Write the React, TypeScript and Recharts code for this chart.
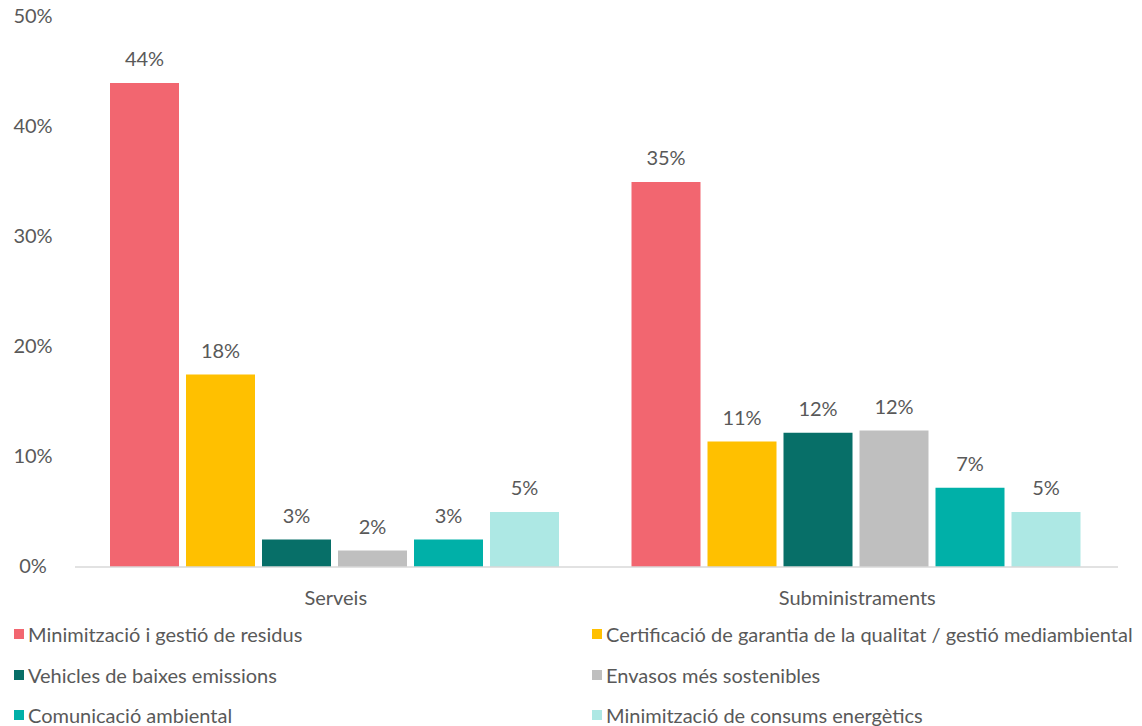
import { BarChart, Bar, XAxis, YAxis, LabelList } from 'recharts'

const categories = ['Serveis', 'Subministraments']

const residus = [44, 35]
const certificacio = [17.5, 11.4]
const vehicles = [2.5, 12.2]
const envasos = [1.5, 12.4]
const comunicacio = [2.5, 7.2]
const energetics = [5, 5]

const yTicks = [0, 10, 20, 30, 40, 50]

const series = [
  { key: 'residus', name: 'Minimització i gestió de residus', color: '#F26670', values: residus },
  { key: 'certificacio', name: 'Certificació de garantia de la qualitat / gestió mediambiental', color: '#FFC000', values: certificacio },
  { key: 'vehicles', name: 'Vehicles de baixes emissions', color: '#076F68', values: vehicles },
  { key: 'envasos', name: 'Envasos més sostenibles', color: '#BFBFBF', values: envasos },
  { key: 'comunicacio', name: 'Comunicació ambiental', color: '#00B0A8', values: comunicacio },
  { key: 'energetics', name: 'Minimització de consums energètics', color: '#ADE8E4', values: energetics },
]

const data = categories.map((cat, i) => {
  const row: Record<string, string | number> = { category: cat }
  series.forEach((s) => {
    row[s.key] = s.values[i]
  })
  return row
})

const FONT = 'Lato, "Open Sans", sans-serif'
const TEXT = '#595959'
const FS = 20

// eslint-disable-next-line @typescript-eslint/no-explicit-any
const YTick = ({ y, payload }: any) => (
  <text x={33} y={y} dy={6} textAnchor="middle" fill={TEXT} fontSize={FS} fontFamily={FONT}>
    {payload.value}%
  </text>
)

// eslint-disable-next-line @typescript-eslint/no-explicit-any
const XTick = ({ x, payload }: any) => (
  <text x={x} y={598} dy={7} textAnchor="middle" fill={TEXT} fontSize={FS} fontFamily={FONT}>
    {payload.value}
  </text>
)

const LegendBox = () => (
  <div
    style={{
      position: 'absolute',
      left: 0,
      top: 614,
      width: 1142,
      display: 'grid',
      gridTemplateColumns: '579px 563px',
      fontFamily: FONT,
      fontSize: FS,
      color: TEXT,
    }}
  >
    {series.map((s, i) => (
      <div
        key={s.key}
        style={{ display: 'flex', alignItems: 'center', height: 40.5, paddingLeft: i % 2 === 0 ? 14 : 13, whiteSpace: 'nowrap' }}
      >
        <span style={{ width: 10, height: 10, background: s.color, marginRight: 4, display: 'inline-block' }} />
        {s.name}
      </div>
    ))}
  </div>
)

export default function App() {
  return (
    <div style={{ position: 'absolute', left: 0, top: 0, width: 1142, height: 726, background: '#fff' }}>
      <BarChart
        width={1142}
        height={726}
        data={data}
        margin={{ top: 17, right: 24, left: 0, bottom: 0 }}
        barCategoryGap={35}
        barGap={7}
      >
        <XAxis
          dataKey="category"
          axisLine={{ stroke: '#D9D9D9', strokeWidth: 1.5 }}
          tickLine={false}
          tick={<XTick />}
          height={159}
        />
        <YAxis
          type="number"
          domain={[0, 50]}
          ticks={yTicks}
          axisLine={false}
          tickLine={false}
          width={75}
          tick={<YTick />}
        />
        {series.map((s) => (
          <Bar key={s.key} dataKey={s.key} name={s.name} fill={s.color} isAnimationActive={false}>
            <LabelList
              dataKey={s.key}
              position="top"
              offset={17}
              formatter={(v: number) => `${Math.round(v)}%`}
              fill={TEXT}
              fontSize={FS}
              fontFamily={FONT}
            />
          </Bar>
        ))}
      </BarChart>
      <LegendBox />
    </div>
  )
}
